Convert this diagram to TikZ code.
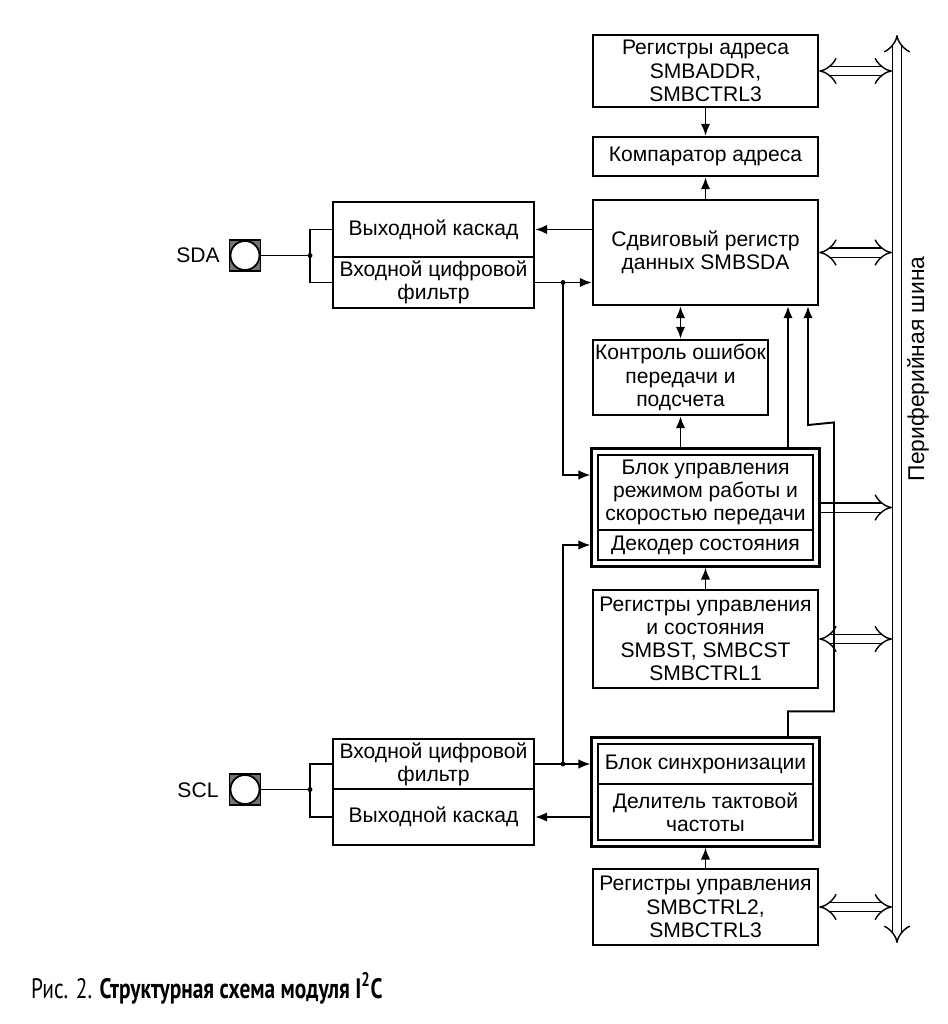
\documentclass[tikz,border=0pt]{standalone}
\usepackage{fontspec}
\setmainfont{Liberation Sans}
\newfontfamily\capfont{PT Sans}
\usetikzlibrary{arrows.meta,fit}

\tikzset{
	blk/.style={draw, line width=1.4pt, align=center, inner sep=0pt},
	frm/.style={draw, line width=1.5pt, inner sep=0.1cm},
	sig/.style={line width=1.1pt, ->},
	wire/.style={line width=1.1pt},
	bus/.style={line width=0.8pt, double, double distance=0.16cm, {Implies}-{Implies}},
	pad/.style={draw, line width=1pt, minimum size=0.62cm, inner sep=0pt,
		path picture={
			\fill[even odd rule, black!55] (path picture bounding box.south west) rectangle (path picture bounding box.north east) (path picture bounding box.center) circle (0.29cm);
			\draw[line width=1pt] (path picture bounding box.center) circle (0.29cm);
		}},
}

\begin{document}
\begin{tikzpicture}[x=0.02cm, y=-0.02cm, >={Latex[length=2.4mm,width=1.9mm]}, font=\fontsize{12}{13.2}\selectfont]
\useasboundingbox (0,0) rectangle (947,1024);

\node[blk, minimum width=4.5cm, minimum height=1.44cm] (regaddr) at (705.5,71) {Регистры адреса\\SMBADDR,\\SMBCTRL3};
\node[blk, minimum width=4.5cm, minimum height=0.78cm] (comp) at (705.5,156.5) {Компаратор адреса};
\node[blk, minimum width=4.5cm, minimum height=2.1cm] (shift) at (705.5,252.5) {Сдвиговый регистр\\данных SMBSDA};
\node[blk, minimum width=3.5cm, minimum height=1.5cm] (errctl) at (680.5,377.5) {Контроль ошибок\\передачи и\\подсчета};
\node[blk, minimum width=4.3cm, minimum height=1.5cm] (mode) at (705.5,492.5) {Блок управления\\режимом работы и\\скоростью передачи};
\node[blk, minimum width=4.3cm, minimum height=0.6cm] (decoder) at (705.5,545) {Декодер состояния};
\node[frm, fit=(mode)(decoder)] (modeframe) {};
\node[blk, minimum width=4.5cm, minimum height=1.96cm] (ctlregs) at (705.5,639) {Регистры управления\\и состояния\\SMBST, SMBCST\\SMBCTRL1};
\node[blk, minimum width=4.3cm, minimum height=0.8cm] (sync) at (705.5,764) {Блок синхронизации};
\node[blk, minimum width=4.3cm, minimum height=1.12cm] (divider) at (705.5,812) {Делитель тактовой\\частоты};
\node[frm, fit=(sync)(divider)] (syncframe) {};
\node[blk, minimum width=4.5cm, minimum height=1.52cm] (ctlregs2) at (705.5,907) {Регистры управления\\SMBCTRL2,\\SMBCTRL3};

\node[blk, minimum width=4.02cm, minimum height=1.1cm] (sdaout) at (433.5,229.5) {Выходной каскад};
\node[blk, minimum width=4.02cm, minimum height=1.02cm] (sdain) at (433.5,282.5) {Входной цифровой\\фильтр};
\node[blk, minimum width=4.02cm, minimum height=1.0cm] (sclin) at (433.5,764) {Входной цифровой\\фильтр};
\node[blk, minimum width=4.02cm, minimum height=1.12cm] (sclout) at (433.5,817) {Выходной каскад};
\node[pad] (sdapad) at (245,255.5) {};
\node[pad] (sclpad) at (245,789.5) {};
\node (sdalbl) at (198,255) {SDA};
\node (scllbl) at (198,790) {SCL};
\node[rotate=90, font=\fontsize{13}{14}\selectfont] (buslbl) at (918,369) {Периферийная шина};

\coordinate (sdajn) at (310,255.5);
\coordinate (scljn) at (310,789.5);
\coordinate (sdafork) at (563,282.5);
\coordinate (sclfork) at (563,764);
\coordinate (sbend) at (808,425);
\coordinate (bustop) at (897,35);
\coordinate (busbot) at (897,943);
\coordinate (busedge) at (892,35);

\draw[bus] (busbot) -- (bustop);
\draw[bus] (regaddr.east) -- (regaddr.east -| busedge);
\draw[bus] (shift.east) -- (shift.east -| busedge);
\draw[bus, -{Implies}] (modeframe.east) -- (modeframe.east -| busedge);
\draw[bus] (ctlregs.east) -- (ctlregs.east -| busedge);
\draw[bus] (ctlregs2.east) -- (ctlregs2.east -| busedge);

\draw[sig] (regaddr.south) -- (comp.north);
\draw[sig] (shift.north) -- (comp.south);
\draw[sig, <->] (shift.south -| errctl.north) -- (errctl.north);
\draw[sig] (modeframe.north -| errctl.south) -- (errctl.south);
\draw[sig] ([xshift=1.65cm]modeframe.north) -- ([xshift=1.65cm]modeframe.north |- shift.south);
\draw[sig] ([xshift=1.65cm]syncframe.north) -- ++(0,-25) -- ++(46,0) -- ++(0,-289) -- (sbend) -- (sbend |- shift.south);
\draw[sig] (ctlregs.north) -- (modeframe.south);
\draw[sig] (ctlregs2.north) -- (syncframe.south);

\draw[sig] (sdaout.east -| shift.west) -- (sdaout.east);
\draw[sig] (sdain.east) -- (sdain.east -| shift.west);
\draw[sig] (sdafork) |- ([yshift=0.65cm]modeframe.west);
\draw[sig] (sclin.east) -- (sclin.east -| syncframe.west);
\draw[sig] (sclfork) |- (decoder.west -| modeframe.west);
\draw[sig] (sclout.east -| syncframe.west) -- (sclout.east);
\draw[wire] (sdapad.east) -- (sdajn);
\draw[wire] (sdaout.west) -| (sdajn) |- (sdain.west);
\draw[wire] (sclpad.east) -- (scljn);
\draw[wire] (sclin.west) -| (scljn) |- (sclout.west);
\foreach \j in {sdajn,scljn,sdafork,sclfork}{
	\fill (\j) circle (1.4pt);
}

\node[anchor=base west, font=\capfont\fontsize{16}{18}\selectfont] (caption) at (25,998) {\scalebox{0.76}[1]{Рис. 2. \textbf{Структурная схема модуля I\textsuperscript{2}C}}};
\end{tikzpicture}
\end{document}
